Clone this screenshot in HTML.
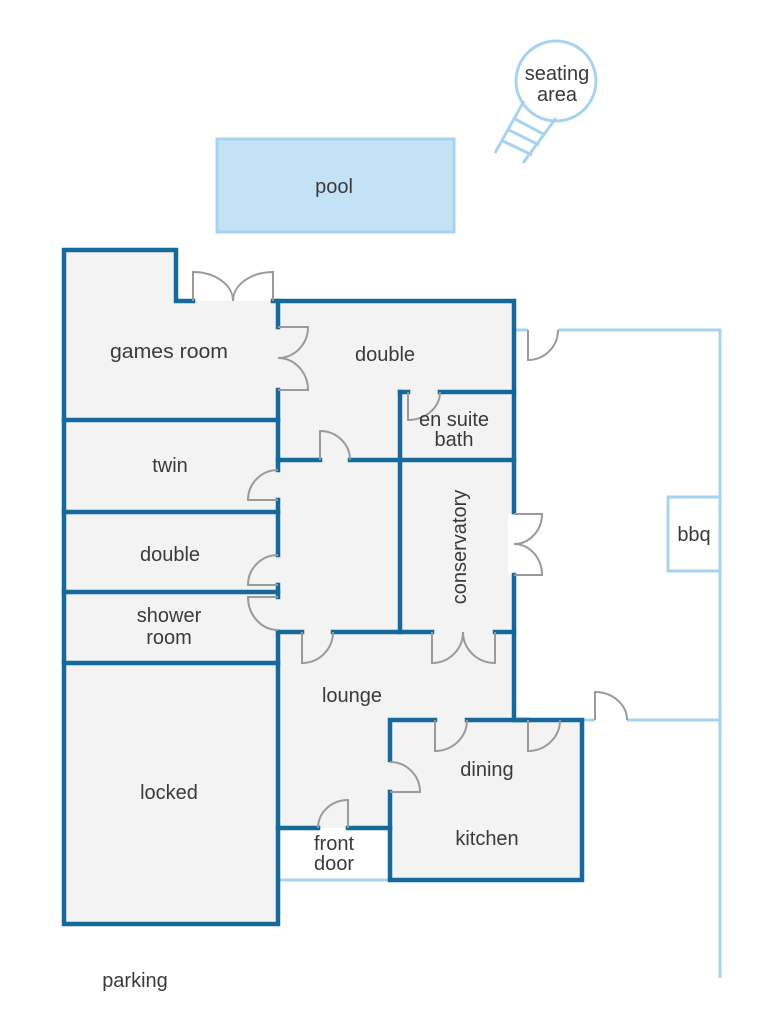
<!DOCTYPE html>
<html><head><meta charset="utf-8"><style>
html,body{margin:0;padding:0;background:#fff;}
svg{display:block;}
text{font-family:"Liberation Sans",sans-serif;font-size:20px;fill:#3a3a3a;text-anchor:middle;}
</style></head><body>
<svg width="764" height="1024" viewBox="0 0 764 1024" xmlns="http://www.w3.org/2000/svg">
<!-- seating area -->
<g stroke="#a8d3ee" stroke-width="3" fill="none">
<circle cx="556" cy="81" r="40"/>
<line x1="524" y1="101" x2="495" y2="153"/>
<line x1="556" y1="118" x2="523" y2="163"/>
<line x1="515" y1="119" x2="545" y2="135"/>
<line x1="509" y1="130" x2="539" y2="145"/>
<line x1="503" y1="141" x2="532" y2="155"/>
</g>
<text x="557" y="80">seating</text>
<text x="557" y="101">area</text>
<!-- pool -->
<rect x="217" y="139" width="237" height="93" fill="#c4e2f5" stroke="#a8d3ee" stroke-width="3"/>
<text x="334" y="193">pool</text>

<!-- building fill -->
<polygon points="64,250 176,250 176,301 514,301 514,720 582,720 582,880 390,880 390,828 278,828 278,924 64,924" fill="#f4f3f3"/>
<rect x="508" y="514" width="6" height="61" fill="#fff"/>

<!-- light blue yard -->
<g stroke="#a8d3ee" stroke-width="3" fill="none">
<polyline points="514,330 528,330"/>
<polyline points="558,330 720,330 720,978"/>
<polyline points="582,720 595,720"/>
<polyline points="627,720 720,720"/>
<rect x="668" y="497" width="52" height="74"/>
<line x1="278" y1="880" x2="390" y2="880"/>
</g>
<text x="694" y="541">bbq</text>

<!-- walls -->
<g stroke="#16699b" stroke-width="4.5" fill="none" stroke-linecap="square">
<polyline points="193,301 176,301 176,250 64,250 64,924 278,924 278,828 318,828"/>
<polyline points="348,828 390,828"/>
<polyline points="273,301 514,301 514,512"/>
<polyline points="514,575 514,720 582,720 582,880 390,880 390,792"/>
<polyline points="390,760 390,720 435,720"/>
<polyline points="467,720 528,720"/>
<line x1="278" y1="301" x2="278" y2="327"/>
<line x1="278" y1="390" x2="278" y2="470"/>
<line x1="278" y1="500" x2="278" y2="555"/>
<line x1="278" y1="585" x2="278" y2="597"/>
<line x1="278" y1="632" x2="278" y2="828"/>
<line x1="64" y1="420" x2="278" y2="420"/>
<line x1="64" y1="512" x2="278" y2="512"/>
<line x1="64" y1="592" x2="278" y2="592"/>
<line x1="64" y1="663" x2="278" y2="663"/>
<line x1="278" y1="460" x2="320" y2="460"/>
<line x1="350" y1="460" x2="514" y2="460"/>
<line x1="400" y1="392" x2="400" y2="632"/>
<line x1="400" y1="392" x2="408" y2="392"/>
<line x1="440" y1="392" x2="514" y2="392"/>
<line x1="278" y1="632" x2="302" y2="632"/>
<line x1="333" y1="632" x2="432" y2="632"/>
<line x1="495" y1="632" x2="514" y2="632"/>
</g>

<!-- doors -->
<g stroke="#9a9a9a" stroke-width="2" fill="none">
<path d="M193,301 V272 A40,29 0 0 1 233,301 A40,29 0 0 1 273,272 V301"/>
<path d="M278,327 H308 A30,31 0 0 1 278,358 A30,32 0 0 1 308,390 H278"/>
<path d="M278,500 H248 A30,30 0 0 1 278,470"/>
<path d="M278,585 H248 A30,30 0 0 1 278,555"/>
<path d="M278,597 H248 A30,33 0 0 0 278,630"/>
<path d="M320,460 V431 A30,29 0 0 1 350,460"/>
<path d="M408,392 V420 A32,28 0 0 0 440,392"/>
<path d="M514,514 H542 A28,30 0 0 1 514,544 A28,31 0 0 1 542,575 H514"/>
<path d="M302,632 V663 A31,31 0 0 0 333,632"/>
<path d="M432,632 V663 A31,31 0 0 0 463,632 A32,31 0 0 0 495,663 V632"/>
<path d="M435,720 V751 A32,31 0 0 0 467,720"/>
<path d="M528,720 V751 A32,31 0 0 0 560,720"/>
<path d="M390,792 H420 A30,30 0 0 0 390,762"/>
<path d="M348,828 V800 A30,28 0 0 0 318,828"/>
<path d="M528,330 V360 A30,30 0 0 0 558,330"/>
<path d="M595,720 V692 A32,28 0 0 1 627,720"/>
</g>

<!-- labels -->
<text x="169" y="358" textLength="118" lengthAdjust="spacingAndGlyphs">games room</text>
<text x="385" y="361">double</text>
<text x="454" y="426">en suite</text>
<text x="454" y="446">bath</text>
<text x="170" y="472">twin</text>
<text x="170" y="561">double</text>
<text x="169" y="622">shower</text>
<text x="169" y="644">room</text>
<text transform="translate(466,547) rotate(-90)">conservatory</text>
<text x="352" y="702">lounge</text>
<text x="487" y="776">dining</text>
<text x="487" y="845">kitchen</text>
<text x="334" y="850">front</text>
<text x="334" y="870">door</text>
<text x="169" y="799">locked</text>
<text x="135" y="987">parking</text>
</svg>
</body></html>
